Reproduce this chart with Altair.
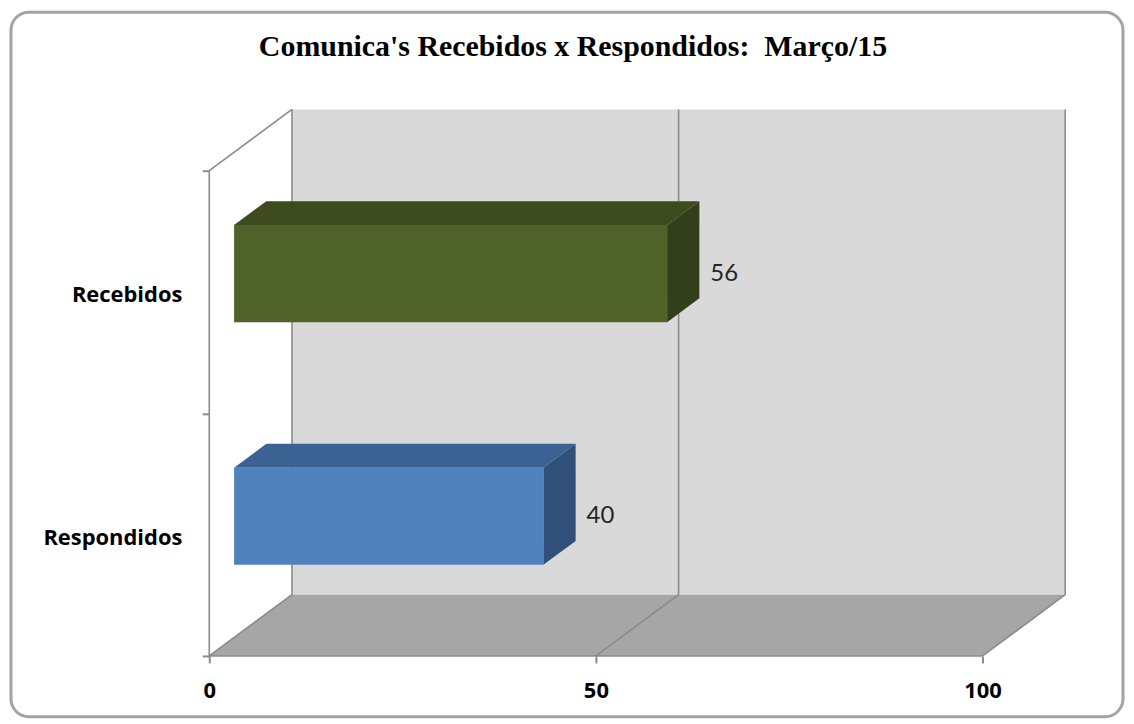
import altair as alt
import pandas as pd

# ---------------- data ----------------
title_text = "Comunica's Recebidos x Respondidos:\u00a0 Março/15"
categories = ["Recebidos", "Respondidos"]
values = [56, 40]
band_index = [1, 0]          # Recebidos on top
front_colors = ["#4f6228", "#4f81bd"]
top_colors = ["#3d4b1f", "#3b6292"]
side_colors = ["#333f1a", "#30507a"]
x_ticks = [0, 50, 100]
x_max = 100
n_bands = 2

# ---------------- layout constants (pixels) ----------------
PX_PER_X = 7.76      # pixels per value unit
PX_PER_Y = 243.5     # pixels per category band
ORIGIN_PX = (210, 657)   # page position of value 0 / band bottom (front plane)
FRAME = (11, 11, 1127, 718)  # left, top, right, bottom of frame on page
DEPTH_PX = (83, 61.5)    # 3D depth offset in pixels
F0, F1 = 0.30, 0.69      # bar depth fractions
BAR_LO, BAR_HI = 0.30, 0.70

W = FRAME[2] - FRAME[0]
H = FRAME[3] - FRAME[1]
x_dom = [(FRAME[0] - ORIGIN_PX[0]) / PX_PER_X, (FRAME[2] - ORIGIN_PX[0]) / PX_PER_X]
y_dom = [(ORIGIN_PX[1] - FRAME[3]) / PX_PER_Y, (ORIGIN_PX[1] - FRAME[1]) / PX_PER_Y]
DX = DEPTH_PX[0] / PX_PER_X
DY = DEPTH_PX[1] / PX_PER_Y

xs = alt.Scale(domain=x_dom, nice=False, zero=False)
ys = alt.Scale(domain=y_dom, nice=False, zero=False)

LINE = "#8a8a8a"

x_axis = alt.Axis(
    values=x_ticks, orient="bottom", offset=-(FRAME[3] - ORIGIN_PX[1]),
    domain=False, grid=False, ticks=True, tickSize=7, tickColor=LINE, tickWidth=2,
    labelFont="Open Sans", labelFontWeight="bold", labelFontSize=22, labelColor="#000000",
    labelPadding=18, labelFlush=False, title=None)
y_axis = alt.Axis(
    values=list(range(n_bands + 1)), orient="left", offset=-(ORIGIN_PX[0] - FRAME[0]),
    domain=False, grid=False, ticks=True, tickSize=7, tickColor=LINE, tickWidth=2,
    labels=False, title=None)


def X(field, **kw):
    return alt.X(field, scale=xs, axis=x_axis, **kw)


def Y(field, **kw):
    return alt.Y(field, scale=ys, axis=y_axis, **kw)


# ---------------- walls ----------------
wall_df = pd.DataFrame([{"x": DX, "x2": x_max + DX, "y": DY, "y2": n_bands + DY}])
wall = alt.Chart(wall_df).mark_rect(color="#d9d9d9").encode(
    x=X("x:Q"), x2="x2:Q", y=Y("y:Q"), y2="y2:Q",
)

floor_df = pd.DataFrame([
    {"y": 0.0, "x": 0.0, "x2": float(x_max)},
    {"y": DY, "x": DX, "x2": x_max + DX},
])
floor = alt.Chart(floor_df).mark_area(orient="horizontal", color="#a6a6a6").encode(
    y=Y("y:Q"), x=X("x:Q", stack=None), x2="x2:Q",
)

segs = []
for t in x_ticks:
    segs.append({"x": t, "y": 0.0, "x2": t + DX, "y2": DY})
    segs.append({"x": t + DX, "y": DY, "x2": t + DX, "y2": n_bands + DY})
segs.append({"x": 0.0, "y": 0.0, "x2": 0.0, "y2": float(n_bands)})
segs.append({"x": 0.0, "y": float(n_bands), "x2": DX, "y2": n_bands + DY})
segs.append({"x": 0.0, "y": 0.0, "x2": float(x_max), "y2": 0.0})
lines_df = pd.DataFrame(segs)
lines = alt.Chart(lines_df).mark_rule(color=LINE, strokeWidth=1.6).encode(
    x=X("x:Q"), y=Y("y:Q"), x2="x2:Q", y2="y2:Q",
)

# ---------------- bars ----------------
front_rows, top_rows, side_rows, label_rows, cat_rows = [], [], [], [], []
for c, v, b, fc, tc, sc in zip(categories, values, band_index, front_colors, top_colors, side_colors):
    lo, hi = b + BAR_LO, b + BAR_HI
    front_rows.append({"cat": c, "x": F0 * DX, "x2": v + F0 * DX,
                       "y": lo + F0 * DY, "y2": hi + F0 * DY, "fill": fc})
    for f in (F0, F1):
        top_rows.append({"cat": c, "y": hi + f * DY, "x": f * DX, "x2": v + f * DX, "fill": tc})
        side_rows.append({"cat": c, "x": v + f * DX, "y": lo + f * DY, "y2": hi + f * DY, "fill": sc})
    label_rows.append({"cat": c, "x": v + F1 * DX, "y": (lo + hi) / 2 + F0 * DY, "text": str(v)})
    cat_rows.append({"cat": c, "x": 0.0, "y": b + 0.5})

side = alt.Chart(pd.DataFrame(side_rows)).mark_area(orient="vertical").encode(
    x=X("x:Q"), y=Y("y:Q", stack=None), y2="y2:Q",
    color=alt.Color("fill:N", scale=None), detail="cat:N",
)
top = alt.Chart(pd.DataFrame(top_rows)).mark_area(orient="horizontal").encode(
    y=Y("y:Q"), x=X("x:Q", stack=None), x2="x2:Q",
    color=alt.Color("fill:N", scale=None), detail="cat:N",
)
front = alt.Chart(pd.DataFrame(front_rows)).mark_rect().encode(
    x=X("x:Q"), x2="x2:Q", y=Y("y:Q"), y2="y2:Q",
    color=alt.Color("fill:N", scale=None),
)

value_labels = alt.Chart(pd.DataFrame(label_rows)).mark_text(
    align="left", baseline="middle", dx=11, font="Lato", fontSize=24, color="#262626"
).encode(
    x=X("x:Q"), y=Y("y:Q"), text="text:N",
)

cat_labels = alt.Chart(pd.DataFrame(cat_rows)).mark_text(
    align="right", baseline="middle", dx=-27, dy=3, font="Open Sans", fontWeight="bold",
    fontSize=22, color="#000000"
).encode(
    x=X("x:Q"), y=Y("y:Q"), text="cat:N",
)

title = alt.Chart(pd.DataFrame([{"t": title_text}])).mark_text(
    align="center", baseline="alphabetic", font="Liberation Serif", fontWeight="bold",
    fontSize=30, color="#000000"
).encode(
    x=alt.value(575 - FRAME[0]),
    y=alt.value(55 - FRAME[1]),
    text="t:N",
)

chart = alt.layer(
    wall, floor, lines, side, top, front, value_labels, cat_labels, title
).properties(
    width=W, height=H,
    autosize=alt.AutoSizeParams(type="none"),
    padding={"left": FRAME[0] - 8, "top": FRAME[1] - 8, "right": 3, "bottom": 3},
    background="#ffffff",
).configure_view(
    stroke="#a3a3a3", strokeWidth=3, cornerRadius=18, fill="#ffffff"
)

chart.save("out.html", embed_options={"renderer": "svg", "actions": False})
